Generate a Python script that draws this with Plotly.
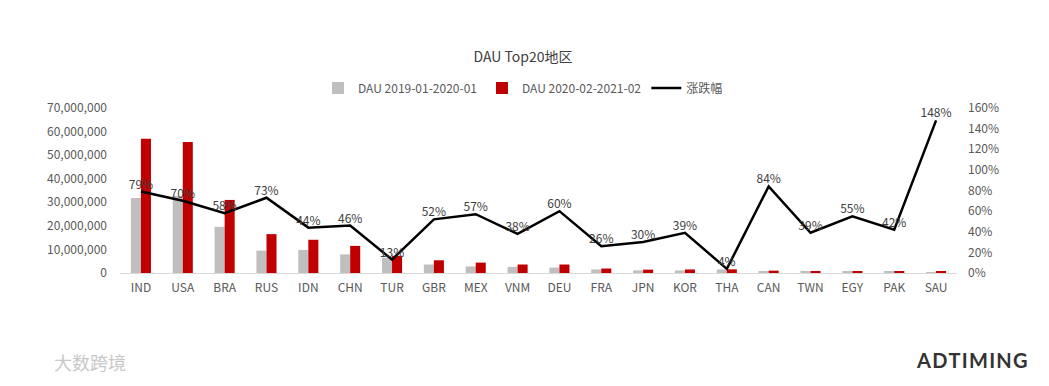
import plotly.graph_objects as go

categories = ["IND", "USA", "BRA", "RUS", "IDN", "CHN", "TUR", "GBR", "MEX", "VNM",
              "DEU", "FRA", "JPN", "KOR", "THA", "CAN", "TWN", "EGY", "PAK", "SAU"]
dau_2019 = [31800000, 32700000, 19600000, 9500000, 9800000, 7900000, 6500000, 3600000, 2800000, 2600000,
            2300000, 1500000, 1100000, 1100000, 1500000, 550000, 600000, 550000, 500000, 250000]
dau_2020 = [57000000, 55600000, 31000000, 16500000, 14100000, 11500000, 7300000, 5400000, 4400000, 3600000,
            3600000, 1900000, 1430000, 1500000, 1560000, 1000000, 850000, 850000, 720000, 620000]
growth = [0.79, 0.70, 0.58, 0.73, 0.44, 0.46, 0.13, 0.52, 0.57, 0.38,
          0.60, 0.26, 0.30, 0.39, 0.04, 0.84, 0.39, 0.55, 0.42, 1.48]
growth_labels = ["79%", "70%", "58%", "73%", "44%", "46%", "13%", "52%", "57%", "38%",
                 "60%", "26%", "30%", "39%", "4%", "84%", "39%", "55%", "42%", "148%"]

left_ticks = [0, 10000000, 20000000, 30000000, 40000000, 50000000, 60000000, 70000000]
left_ticktext = ["0", "10,000,000", "20,000,000", "30,000,000", "40,000,000",
                 "50,000,000", "60,000,000", "70,000,000"]
right_ticks = [0, 0.2, 0.4, 0.6, 0.8, 1.0, 1.2, 1.4, 1.6]
right_ticktext = ["0%", "20%", "40%", "60%", "80%", "100%", "120%", "140%", "160%"]

FONT = "Noto Sans CJK SC, Noto Sans, sans-serif"
TXT = "#595959"

# page body has an 8px default margin; figure sized to fit the 1049x386 window
W, H = 1033, 370
L, R, T, B = 112, 84, 100, 105
pw = W - L - R
ph = H - T - B

fig = go.Figure()
fig.add_trace(go.Bar(x=categories, y=dau_2019, name="DAU 2019-01-2020-01",
                     marker=dict(color="#bfbfbf", line=dict(width=0)), yaxis="y"))
fig.add_trace(go.Bar(x=categories, y=dau_2020, name="DAU 2020-02-2021-02",
                     marker=dict(color="#c00000", line=dict(width=0)), yaxis="y"))
fig.add_trace(go.Scatter(x=categories, y=growth, name="涨跌幅", yaxis="y2",
                         mode="lines+text", text=growth_labels, textposition="top center",
                         textfont=dict(size=12, color="#404040", family=FONT),
                         line=dict(color="#000000", width=2.5), cliponaxis=False))

fig.add_annotation(text="大数跨境", xref="paper", yref="paper",
                   x=(44 - L) / pw, y=(H - B - 354) / ph,
                   showarrow=False, font=dict(size=18, color="#c8c8c8", family=FONT),
                   xanchor="left", yanchor="middle")
fig.add_annotation(text="<b>A D T I M I N G</b>".replace(" ", "&#8202;"), xref="paper", yref="paper",
                   x=(1022 - L) / pw, y=(H - B - 352) / ph,
                   showarrow=False, font=dict(size=20, color="#333333", family="Lato"),
                   xanchor="right", yanchor="middle")

fig.update_layout(
    width=W, height=H,
    margin=dict(l=L, r=R, t=T, b=B),
    paper_bgcolor="white", plot_bgcolor="white",
    font=dict(family=FONT, size=12, color=TXT),
    barmode="group", bargap=0.52, bargroupgap=0,
    title=dict(text="DAU Top20地区", xref="container", yref="container",
               x=515 / W, y=1 - 49 / H, xanchor="center", yanchor="middle",
               font=dict(size=14, color="#404040", family=FONT)),
    showlegend=True,
    legend=dict(orientation="h", xref="paper", yref="paper",
                x=(310 - L) / pw, y=(H - B - 80) / ph,
                xanchor="left", yanchor="middle", font=dict(size=12, color=TXT),
                itemwidth=30, traceorder="normal", bgcolor="rgba(0,0,0,0)"),
    xaxis=dict(range=[-0.5, 19.5], showgrid=False, showline=True, linecolor="#d9d9d9",
               linewidth=1, ticks="", tickfont=dict(size=12, color=TXT), ticklabelstandoff=4),
    yaxis=dict(range=[0, 70000000], tickvals=left_ticks, ticktext=left_ticktext,
               showgrid=False, zeroline=False, showline=False,
               tickfont=dict(size=12, color=TXT), ticklabelstandoff=12),
    yaxis2=dict(range=[0, 1.6], tickvals=right_ticks, ticktext=right_ticktext,
                overlaying="y", side="right", showgrid=False, zeroline=False,
                showline=False, tickfont=dict(size=12, color=TXT), ticklabelstandoff=10),
)

fig.write_html("out.html")
